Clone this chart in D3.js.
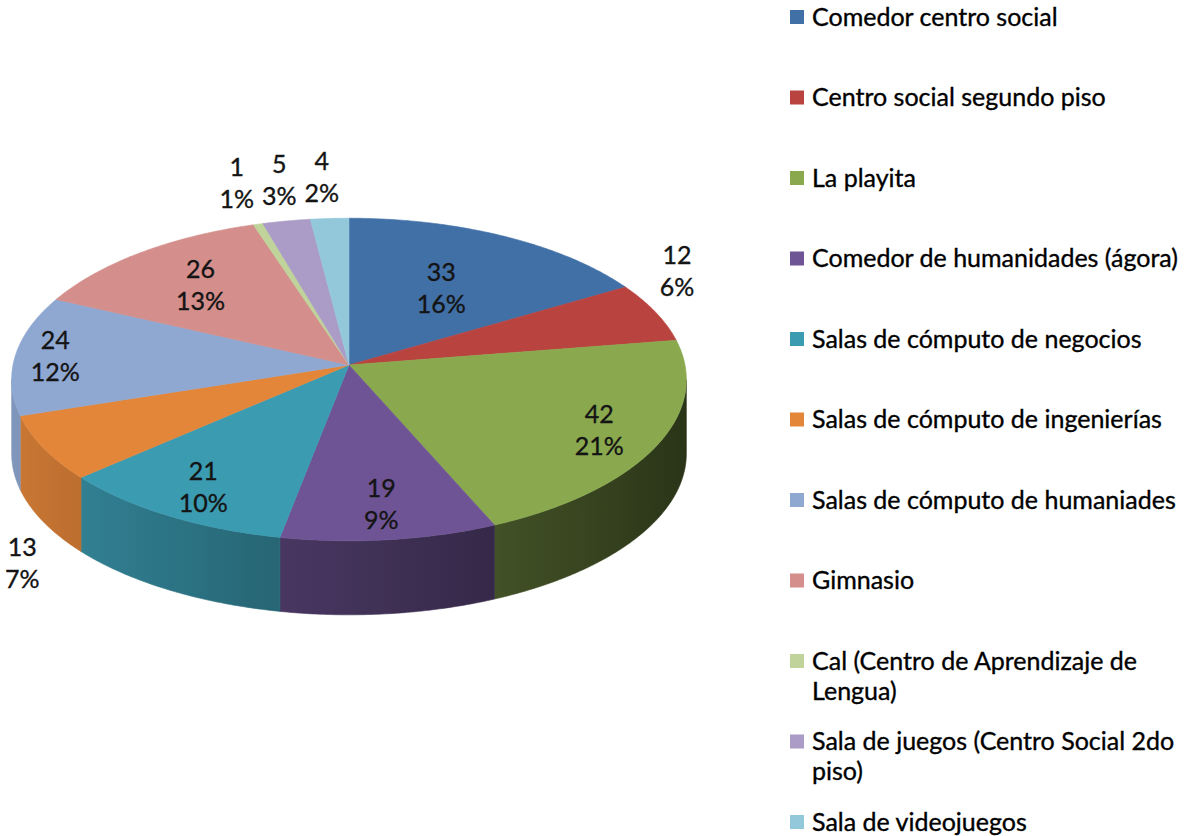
<!DOCTYPE html>
<html lang="es">
<head>
<meta charset="UTF-8">
<title>Pie 3D</title>
<script src="https://d3js.org/d3.v7.min.js"></script>
<style>
    body { margin: 0; background: #fff; }
    svg { display: block; font-family: Lato, "Open Sans", sans-serif; }
</style>
</head>
<body>
<svg id="chart" width="1192" height="836"></svg>
<script>
    // data
    const categories = [
        "Comedor centro social",
        "Centro social segundo piso",
        "La playita",
        "Comedor de humanidades (ágora)",
        "Salas de cómputo de negocios",
        "Salas de cómputo de ingenierías",
        "Salas de cómputo de humaniades",
        "Gimnasio",
        "Cal (Centro de Aprendizaje de Lengua)",
        "Sala de juegos (Centro Social 2do piso)",
        "Sala de videojuegos"
    ];
    const values = [33, 12, 42, 19, 21, 13, 24, 26, 1, 5, 4];
    const pctLabels = ["16%", "6%", "21%", "9%", "10%", "7%", "12%", "13%", "1%", "3%", "2%"];
    const colors = ["#4170a7", "#b9433f", "#8aa94f", "#6f5495", "#3b9bb1", "#e3863a",
                    "#8fa8d2", "#d48e8b", "#bfd39a", "#aa9cc6", "#93c8db"];

    // layout
    const cx = 349, cy = 365, rx = 336, ry = 160, persp = 0.09, depth = 74;
    const insideLabelR = [0.58, 0, 0.82, 0.81, 0.82, 0, 0.88, 0.7, 0, 0, 0];
    const fontSize = 25;

    const svg = d3.select("#chart");
    const defs = svg.append("defs");

    // project a point of the pie disc (angle from 12 o'clock, clockwise) onto the screen
    const project = (theta, r) => {
        const u = r * Math.sin(theta), v = -r * Math.cos(theta);
        const d = 1 - persp * v;
        return [cx + rx * u / d, cy + ry * v / d];
    };

    const arcPoints = (a0, a1, r, dy) => {
        const n = Math.max(2, Math.ceil((a1 - a0) / 0.01));
        return d3.range(n + 1).map(i => {
            const p = project(a0 + (a1 - a0) * i / n, r);
            return [p[0], p[1] + dy];
        });
    };

    const pie = d3.pie().sort(null).value(d => d)(values);
    const line = d3.line();

    // side shading: lit from the left
    const shade = (color, theta) => {
        const f = 0.6 + 0.3 * (-Math.sin(theta));
        return d3.interpolateRgb("#000", color)(f);
    };

    // silhouette of the projected disc
    const thetaR = Math.acos(-persp), thetaL = 2 * Math.PI - thetaR;

    const sides = svg.append("g");
    pie.forEach((s, i) => {
        const a0 = Math.max(s.startAngle, thetaR), a1 = Math.min(s.endAngle, thetaL);
        if (a1 <= a0) return;
        const top = arcPoints(a0, a1, 1, 0);
        const bottom = arcPoints(a0, a1, 1, depth).reverse();
        const x0 = top[0][0], x1 = top[top.length - 1][0];
        const grad = defs.append("linearGradient")
            .attr("id", "side" + i)
            .attr("gradientUnits", "userSpaceOnUse")
            .attr("x1", x0).attr("x2", x1).attr("y1", 0).attr("y2", 0);
        d3.range(9).forEach(j => {
            const t = a0 + (a1 - a0) * j / 8;
            const x = project(t, 1)[0];
            grad.append("stop")
                .attr("offset", x1 === x0 ? 0 : (x - x0) / (x1 - x0))
                .attr("stop-color", shade(colors[i], t));
        });
        sides.append("path")
            .attr("d", line(top.concat(bottom)) + "Z")
            .attr("fill", `url(#side${i})`)
            .attr("stroke", `url(#side${i})`)
            .attr("stroke-width", 0.6);
    });

    // top face
    const topFace = svg.append("g");
    pie.forEach((s, i) => {
        const pts = [[cx, cy]].concat(arcPoints(s.startAngle, s.endAngle, 1, 0));
        topFace.append("path")
            .attr("d", line(pts) + "Z")
            .attr("fill", colors[i])
            .attr("stroke", colors[i])
            .attr("stroke-width", 0.6);
    });

    // data labels
    const labels = svg.append("g")
        .attr("font-size", fontSize)
        .attr("fill", "#141414")
        .attr("stroke", "#141414")
        .attr("stroke-width", 0.35)
        .attr("text-anchor", "middle");

    const outside = [];
    pie.forEach((s, i) => {
        const mid = (s.startAngle + s.endAngle) / 2;
        const g = labels.append("g");
        g.append("text").attr("y", -16).attr("dy", "0.35em").text(values[i]);
        g.append("text").attr("y", 16).attr("dy", "0.35em").text(pctLabels[i]);
        const w = d3.max(g.selectAll("text").nodes(), n => n.getComputedTextLength());
        if (s.endAngle - s.startAngle > 0.5) {
            const p = project(mid, insideLabelR[i]);
            g.attr("transform", `translate(${p[0]},${p[1]})`);
        } else {
            const p = project(mid, 1);
            if (Math.cos(mid) < 0) p[1] += depth;
            const sx = Math.sign(Math.sin(mid)), sy = Math.sign(-Math.cos(mid));
            outside.push({ g, w, x: p[0] + sx * (w / 2 + 4), y: p[1] + sy * (25 + 16) });
        }
    });
    // keep outside labels near the top from colliding
    const topOut = outside.filter(o => o.y < cy).sort((a, b) => a.x - b.x);
    for (let j = 1; j < topOut.length; j++) {
        const minX = topOut[j - 1].x + topOut[j - 1].w / 2 + topOut[j].w / 2 + 8;
        if (topOut[j].x < minX) topOut[j].x = minX;
    }
    outside.forEach(o => o.g.attr("transform", `translate(${o.x},${o.y})`));

    // legend
    const legend = svg.append("g")
        .attr("font-size", fontSize)
        .attr("fill", "#000")
        .attr("stroke", "#000")
        .attr("stroke-width", 0.35);
    const legendX = 790, legendY = 17, legendStep = 80.5, wrapWidth = 385;
    categories.forEach((name, i) => {
        const y = legendY + i * legendStep;
        legend.append("rect")
            .attr("x", legendX).attr("y", y - 7)
            .attr("width", 14).attr("height", 14)
            .attr("stroke", "none")
            .attr("fill", colors[i]);
        const text = legend.append("text")
            .attr("x", legendX + 22).attr("y", y).attr("dy", "0.35em");
        // word wrap
        const words = name.split(" ");
        let lineText = [], tspan = text.append("tspan").attr("x", legendX + 22);
        words.forEach(word => {
            lineText.push(word);
            tspan.text(lineText.join(" "));
            if (tspan.node().getComputedTextLength() > wrapWidth && lineText.length > 1) {
                lineText.pop();
                tspan.text(lineText.join(" "));
                lineText = [word];
                tspan = text.append("tspan").attr("x", legendX + 22).attr("dy", 30).text(word);
            }
        });
    });
</script>
</body>
</html>
